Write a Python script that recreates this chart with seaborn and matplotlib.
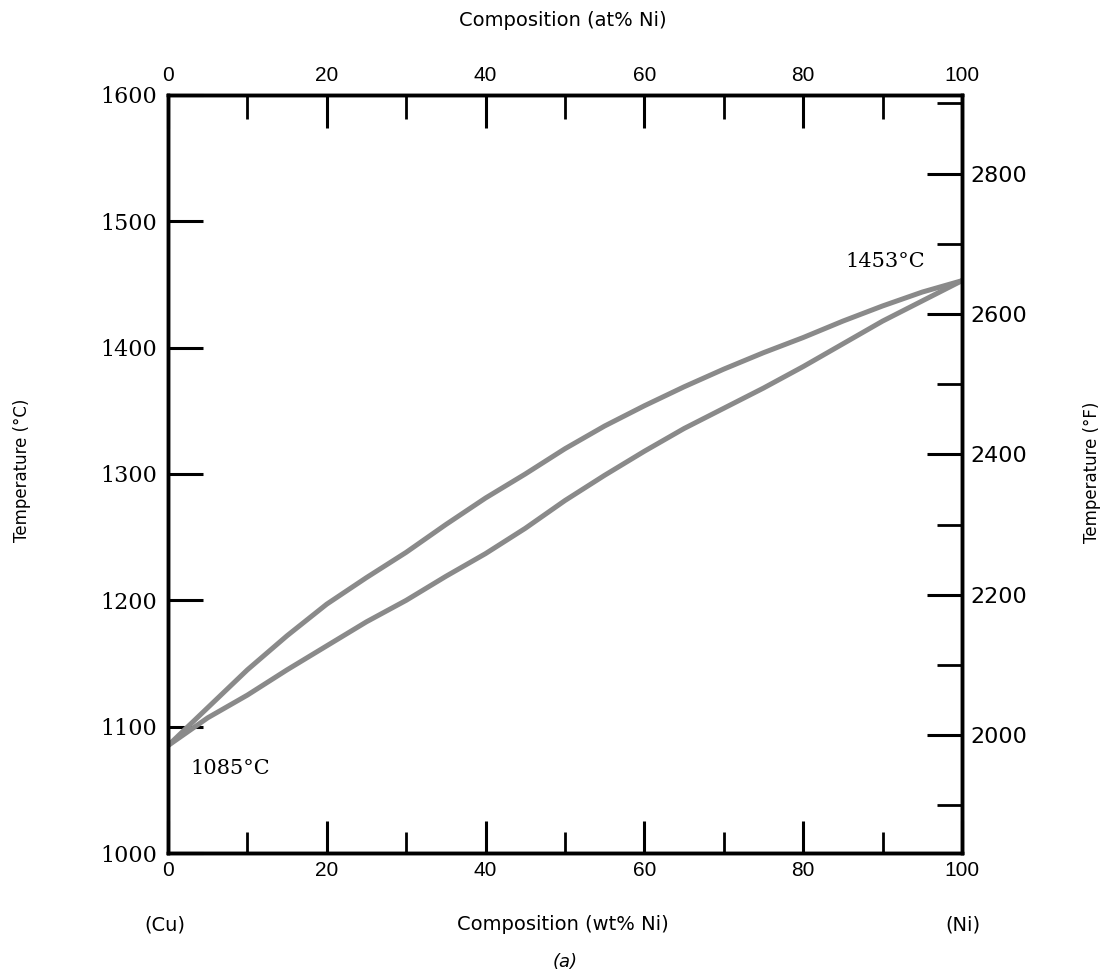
import matplotlib
matplotlib.use("Agg")
import matplotlib.pyplot as plt
import seaborn as sns
import pandas as pd
from matplotlib.ticker import MultipleLocator, FixedLocator

# ---- data (Cu-Ni phase diagram) ----
wt_ni = [0, 5, 10, 15, 20, 25, 30, 35, 40, 45, 50, 55, 60, 65, 70, 75, 80, 85, 90, 95, 100]
liquidus_c = [1085, 1115, 1145, 1172, 1197, 1218, 1238, 1260, 1281, 1300, 1320,
              1338, 1354, 1369, 1383, 1396, 1408, 1421, 1433, 1444, 1453]
solidus_c = [1085, 1107, 1125, 1145, 1164, 1183, 1200, 1219, 1237, 1257, 1279,
             1299, 1318, 1336, 1352, 1368, 1385, 1403, 1421, 1437, 1453]

x_ticks = [0, 20, 40, 60, 80, 100]
c_ticks = [1000, 1100, 1200, 1300, 1400, 1500, 1600]
f_major = [2000, 2200, 2400, 2600, 2800]
f_minor = [1900, 2100, 2300, 2500, 2700, 2900]

df = pd.DataFrame({
    "wt": wt_ni * 2,
    "T": liquidus_c + solidus_c,
    "curve": ["liquidus"] * len(wt_ni) + ["solidus"] * len(wt_ni),
})

sns.set_theme(style="white")
plt.rcParams["font.family"] = ["DejaVu Sans"]
plt.rcParams["text.color"] = "black"
plt.rcParams["xtick.labelcolor"] = "black"
plt.rcParams["ytick.labelcolor"] = "black"

fig = plt.figure(figsize=(11.08, 9.75), dpi=100)
ax = fig.add_axes([0.1516, 0.1251, 0.7166, 0.7775])

sns.lineplot(data=df, x="wt", y="T", units="curve", estimator=None,
             color="#8a8a8a", linewidth=3.6, ax=ax, legend=False, sort=False)

ax.set_xlim(0, 100)
ax.set_ylim(1000, 1600)
ax.set_xlabel("")
ax.set_ylabel("")

spine_w = 2.4
for s in ax.spines.values():
    s.set_color("black")
    s.set_linewidth(spine_w)

# bottom axis
ax.xaxis.set_major_locator(FixedLocator(x_ticks))
ax.xaxis.set_minor_locator(MultipleLocator(10))
ax.yaxis.set_major_locator(FixedLocator(c_ticks))
ax.tick_params(axis="x", which="major", direction="in", length=23, width=2.2,
               color="black", labelcolor="black", pad=6, labelsize=15,
               bottom=True, top=False)
ax.tick_params(axis="x", which="minor", direction="in", length=15, width=2.0,
               color="black", bottom=True, top=False)
ax.tick_params(axis="y", which="major", direction="in", length=25, width=2.2,
               color="black", labelcolor="black", pad=8, labelsize=16,
               left=True, right=False)
for lab in ax.get_xticklabels():
    lab.set_fontfamily("Liberation Sans")
for lab in ax.get_yticklabels():
    lab.set_fontfamily("DejaVu Serif")

# top axis (at% Ni)
axt = ax.twiny()
axt.set_xlim(0, 100)
axt.xaxis.set_major_locator(FixedLocator(x_ticks))
axt.xaxis.set_minor_locator(MultipleLocator(10))
axt.tick_params(axis="x", which="major", direction="in", length=24, width=2.2,
                color="black", labelcolor="black", pad=7, labelsize=15,
                top=True, bottom=False)
axt.tick_params(axis="x", which="minor", direction="in", length=17, width=2.0,
                color="black", top=True, bottom=False)
for lab in axt.get_xticklabels():
    lab.set_fontfamily("Liberation Sans")
for s in axt.spines.values():
    s.set_linewidth(spine_w)
    s.set_color("black")

# right axis (deg F)
axr = ax.twinx()
axr.set_ylim(1000 * 1.8 + 32, 1600 * 1.8 + 32)
axr.yaxis.set_major_locator(FixedLocator(f_major))
axr.yaxis.set_minor_locator(FixedLocator(f_minor))
axr.tick_params(axis="y", which="major", direction="in", length=25, width=2.2,
                color="black", labelcolor="black", pad=6, labelsize=16,
                right=True, left=False)
axr.tick_params(axis="y", which="minor", direction="in", length=18, width=2.0,
                color="black", right=True, left=False)
for s in axr.spines.values():
    s.set_linewidth(spine_w)
    s.set_color("black")
axr.grid(False)
axt.grid(False)
ax.grid(False)

# annotations
ax.text(2.8, 1067, "1085°C", ha="left", va="center", fontsize=15,
        fontfamily="DejaVu Serif", color="black")
ax.text(95.3, 1468, "1453°C", ha="right", va="center", fontsize=15,
        fontfamily="DejaVu Serif", color="black")

# axis titles
fig.text(0.508, 0.979, "Composition (at% Ni)", ha="center", va="center", fontsize=14)
fig.text(0.508, 0.0513, "Composition (wt% Ni)", ha="center", va="center", fontsize=14)
fig.text(0.149, 0.0513, "(Cu)", ha="center", va="center", fontsize=14)
fig.text(0.869, 0.0513, "(Ni)", ha="center", va="center", fontsize=14)
fig.text(0.51, 0.013, "(a)", ha="center", va="center", fontsize=13, style="italic")
fig.text(0.020, 0.518, "Temperature (°C)", ha="center", va="center", fontsize=12,
         rotation=90)
fig.text(0.986, 0.516, "Temperature (°F)", ha="center", va="center", fontsize=12,
         rotation=90)

fig.savefig("out.png", dpi=100, facecolor="white")
